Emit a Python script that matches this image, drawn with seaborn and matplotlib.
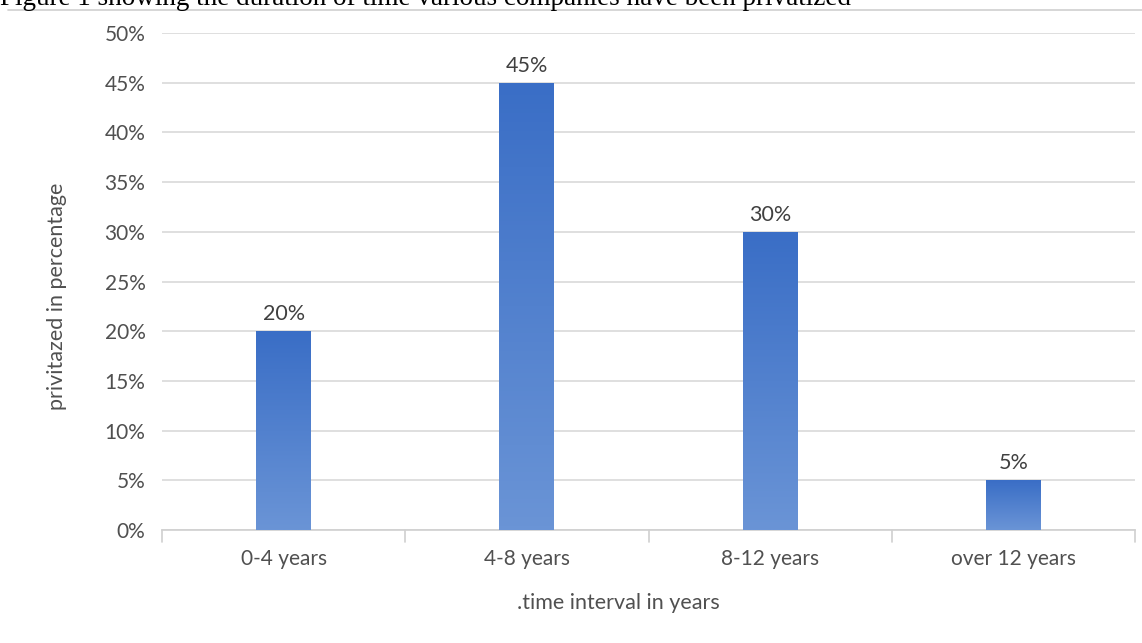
import numpy as np
import pandas as pd
import seaborn as sns
import matplotlib.pyplot as plt
from matplotlib.colors import LinearSegmentedColormap
from matplotlib.lines import Line2D

# chart data
categories = ['0-4 years', '4-8 years', '8-12 years', 'over 12 years']
shares = [0.20, 0.45, 0.30, 0.05]
y_ticks = [0, 0.05, 0.10, 0.15, 0.20, 0.25, 0.30, 0.35, 0.40, 0.45, 0.50]

df = pd.DataFrame({'interval': categories, 'share': shares})

sns.set_theme(style='white')
plt.rcParams['font.family'] = ['Lato', 'DejaVu Sans']

fig = plt.figure(figsize=(11.42, 6.43), dpi=100)
ax = fig.add_axes([0.1419, 0.1757, 0.8520, 0.7730])

sns.barplot(data=df, x='interval', y='share', color='#4A7DCB', width=0.226,
            saturation=1, ax=ax, zorder=3)

# gradient fill for every bar (dark blue top -> lighter bottom)
grad = LinearSegmentedColormap.from_list('g', ['#6A94D6', '#3A6EC6'])
for p in ax.patches:
    x0, y0 = p.get_x(), p.get_y()
    w, h = p.get_width(), p.get_height()
    p.set_facecolor('none')
    p.set_edgecolor('none')
    img = ax.imshow(np.linspace(0, 1, 100).reshape(-1, 1), cmap=grad,
                    origin='lower', aspect='auto',
                    extent=[x0, x0 + w, y0, y0 + h], zorder=3)
    img.set_clip_path(p)

ax.set_xlim(-0.5, len(categories) - 0.5)
ax.set_ylim(0, 0.5)
ax.set_yticks(y_ticks)
ax.set_yticklabels([f'{int(round(t * 100))}%' for t in y_ticks])

# data labels
for i, v in enumerate(shares):
    ax.text(i, v + 0.007, f'{int(round(v * 100))}%', ha='center', va='bottom',
            fontsize=15.5, color='#404040')

ax.grid(axis='y', color='#D9D9D9', linewidth=1.2, zorder=0)
ax.set_axisbelow(True)
for s in ['left', 'right', 'top']:
    ax.spines[s].set_visible(False)
ax.spines['bottom'].set_color('#D0D0D0')
ax.spines['bottom'].set_linewidth(1.2)

ax.tick_params(axis='y', length=0, labelsize=15, labelcolor='#505050', pad=12)
ax.tick_params(axis='x', length=0, labelsize=15, labelcolor='#505050', pad=14)

# category boundary ticks below axis
for b in np.arange(-0.5, len(categories), 1.0):
    ax.plot([b, b], [0, -0.012], color='#D0D0D0', lw=1.2, clip_on=False)

ax.set_xlabel('.time interval in years', fontsize=15.5, color='#505050')
ax.xaxis.set_label_coords(0.469, -0.126)
ax.set_ylabel('privitazed in percentage', fontsize=15.5, color='#505050')
ax.yaxis.set_label_coords(-0.098, 0.47)

# caption cut off at the top of the image
fig.text(0.0, 0.992, 'Figure 1 showing the duration of time various companies have been privatized',
         fontsize=19.5, family=['Liberation Serif', 'DejaVu Serif'], color='black',
         ha='left', va='baseline')
fig.add_artist(Line2D([0.007, 1.0], [1 - 10 / 643, 1 - 10 / 643], color='#D0D0D0', lw=1.2))

fig.savefig('out.png', dpi=100)
